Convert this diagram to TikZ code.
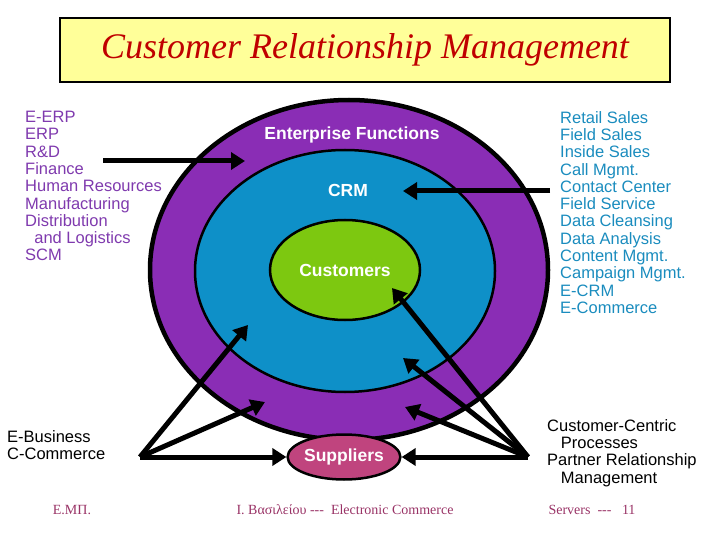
\documentclass[tikz,border=0pt]{standalone}
\usepackage{fontspec}
\setmainfont{Liberation Serif}
\newfontfamily\sans{Liberation Sans}
\usetikzlibrary{arrows.meta,shapes.geometric}
\definecolor{purp}{HTML}{8A2DB5}
\definecolor{cblue}{HTML}{0E90C8}
\definecolor{cgreen}{HTML}{7DC810}
\definecolor{supp}{HTML}{C0447E}
\definecolor{ltxt}{HTML}{7F3AAE}
\definecolor{rtxt}{HTML}{1A8CBE}
\definecolor{foot}{HTML}{993366}
\definecolor{ttl}{HTML}{C00000}
\begin{document}
\begin{tikzpicture}[x=1pt,y=-1pt,
  arr/.style={line width=5pt,-{Triangle[length=14pt,width=17pt]}},
  lab/.style={text=white,font=\sans\fontsize{17.5}{19}\selectfont\bfseries},
  lst/.style={anchor=north west,align=left,inner sep=0pt,font=\sans\fontsize{16.5}{17.3}\selectfont},
  ft/.style={text=foot,font=\fontsize{14}{16}\selectfont}]
\useasboundingbox (0,0) rectangle (720,540);
\node[draw,line width=1.5pt,fill={rgb,255:red,255;green,255;blue,153},minimum width=610pt,minimum height=64pt,
  font=\fontsize{36}{38}\selectfont\itshape,text=ttl] (title) at (365,50) {Customer Relationship Management};
\node[ellipse,draw,line width=4.5pt,fill=purp,minimum width=398pt,minimum height=340pt,inner sep=0pt] (ef) at (349,270) {};
\node[ellipse,draw,line width=2.5pt,fill=cblue,minimum width=300pt,minimum height=242pt,inner sep=0pt] (crm) at (345,271) {};
\node[ellipse,draw,line width=2.5pt,fill=cgreen,minimum width=150pt,minimum height=100pt,inner sep=0pt,lab] (cust) at (345,270) {Customers};
\node[ellipse,draw,line width=2.5pt,fill=supp,minimum width=92pt,minimum height=45pt,inner sep=0pt,lab] (sup) at (344,457) {Suppliers};
\node[lab] (eft) at (352,135) {Enterprise Functions};
\node[lab] (crmt) at (348,190) {CRM};
\node[lst,text=ltxt] (ltext) at (25,111) {E-ERP\\ERP\\R\&D\\Finance\\Human Resources\\Manufacturing\\Distribution\\\ \ and Logistics\\SCM};
\node[lst,text=rtxt] (rtext) at (560,111) {Retail Sales\\Field Sales\\Inside Sales\\Call Mgmt.\\Contact Center\\Field Service\\Data Cleansing\\Data Analysis\\Content Mgmt.\\Campaign Mgmt.\\E-CRM\\E-Commerce};
\node[lst] (ebiz) at (7,430) {E-Business\\C-Commerce};
\node[lst] (ccp) at (547,419) {Customer-Centric\\\ \ \ Processes\\Partner Relationship\\\ \ \ Management};
\node[ft] (f1) at (72,510) {Ε.ΜΠ.};
\node[ft] (f2) at (345,510) {Ι. Βασιλείου {-}{-}{-} \ Electronic Commerce};
\node[ft] (f3) at (592,510) {Servers \ {-}{-}{-} \ \ 11};
\coordinate (ls) at (103,161);
\coordinate (lt) at (245,161);
\coordinate (rs) at (550,191);
\coordinate (rt) at (403,191);
\coordinate (bl) at (140,457);
\coordinate (br) at (528,457);
\draw[arr] (ls) -- (lt);
\draw[arr] (rs) -- (rt);
\draw[arr] (bl) -- (248,325);
\draw[arr] (bl) -- (265,402);
\draw[arr] (bl) -- (sup.west);
\draw[arr] (br) -- (392,288);
\draw[arr] (br) -- (403,358);
\draw[arr] (br) -- (405,407);
\draw[arr] (br) -- (sup.east);
\end{tikzpicture}
\end{document}
